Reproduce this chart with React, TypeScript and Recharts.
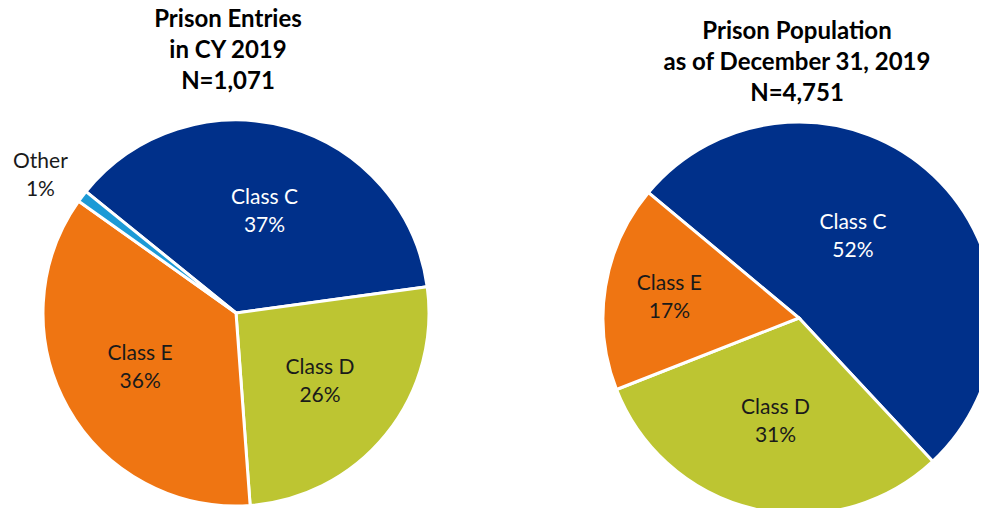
import React from "react";
import { PieChart, Pie, Cell } from "recharts";

const entryCategories = ["Class C", "Class D", "Class E", "Other"];
const entryPercents = [37, 26, 36, 1];

const popCategories = ["Class C", "Class D", "Class E"];
const popPercents = [52, 31, 17];

const COLORS: Record<string, string> = {
  "Class C": "#00308A",
  "Class D": "#BDC532",
  "Class E": "#EF7512",
  Other: "#1C9AD6",
};
const TEXT_COLORS: Record<string, string> = {
  "Class C": "#FFFFFF",
  "Class D": "#1A1A1A",
  "Class E": "#1A1A1A",
  Other: "#1A1A1A",
};

// label placement tweaks (fraction of radius, angle offset in degrees)
const entryLabelAdj = [
  { r: 0.55, a: 0 },
  { r: 0.56, a: 0 },
  { r: 0.57, a: 0 },
  { r: 1.24, a: 2 },
];
const popLabelAdj = [
  { r: 0.5, a: 10 },
  { r: 0.54, a: 0 },
  { r: 0.67, a: 0 },
];

const entryData = entryCategories.map((name, i) => ({ name, value: entryPercents[i] }));
const popData = popCategories.map((name, i) => ({ name, value: popPercents[i] }));

const FONT = "Lato, 'Open Sans', sans-serif";
const RAD = Math.PI / 180;

const makeLabel = (adj: { r: number; a: number }[]) => (props: any) => {
  const { cx, cy, midAngle, outerRadius, index, name, value } = props;
  const a = adj[index] || { r: 0.55, a: 0 };
  const ang = (midAngle + a.a) * RAD;
  const rr = outerRadius * a.r;
  const x = cx + rr * Math.cos(ang);
  const y = cy - rr * Math.sin(ang);
  return (
    <text
      x={x}
      y={y}
      textAnchor="middle"
      fill={TEXT_COLORS[name]}
      fontFamily={FONT}
      fontSize={21}
    >
      <tspan x={x} dy={-7}>{name}</tspan>
      <tspan x={x} dy={28}>{value}%</tspan>
    </text>
  );
};

const titleStyle: React.CSSProperties = {
  position: "absolute",
  fontFamily: FONT,
  fontWeight: 700,
  fontSize: 24,
  lineHeight: "31px",
  color: "#000",
  textAlign: "center",
  whiteSpace: "nowrap",
  transform: "translateX(-50%)",
};

export default function App() {
  return (
    <div style={{ margin: -8, position: "relative", width: 987, height: 516, overflow: "hidden", background: "#fff" }}>
      <PieChart width={987} height={516} margin={{ top: 0, right: 0, bottom: 0, left: 0 }}>
        <Pie
          data={entryData}
          dataKey="value"
          nameKey="name"
          cx={236}
          cy={313}
          outerRadius={193}
          startAngle={141}
          endAngle={-219}
          stroke="#FFFFFF"
          strokeWidth={3}
          isAnimationActive={false}
          labelLine={false}
          label={makeLabel(entryLabelAdj)}
        >
          {entryData.map((d) => (
            <Cell key={d.name} fill={COLORS[d.name]} />
          ))}
        </Pie>
        <Pie
          data={popData}
          dataKey="value"
          nameKey="name"
          cx={799}
          cy={318}
          outerRadius={196}
          startAngle={140.2}
          endAngle={-219.8}
          stroke="#FFFFFF"
          strokeWidth={3}
          isAnimationActive={false}
          labelLine={false}
          label={makeLabel(popLabelAdj)}
        >
          {popData.map((d) => (
            <Cell key={d.name} fill={COLORS[d.name]} />
          ))}
        </Pie>
      </PieChart>
      <div style={{ ...titleStyle, left: 228, top: 2 }}>
        Prison Entries
        <br />
        in CY 2019
        <br />
        N=1,071
      </div>
      <div style={{ ...titleStyle, left: 797, top: 14 }}>
        Prison Population
        <br />
        as of December 31, 2019
        <br />
        N=4,751
      </div>
    </div>
  );
}
